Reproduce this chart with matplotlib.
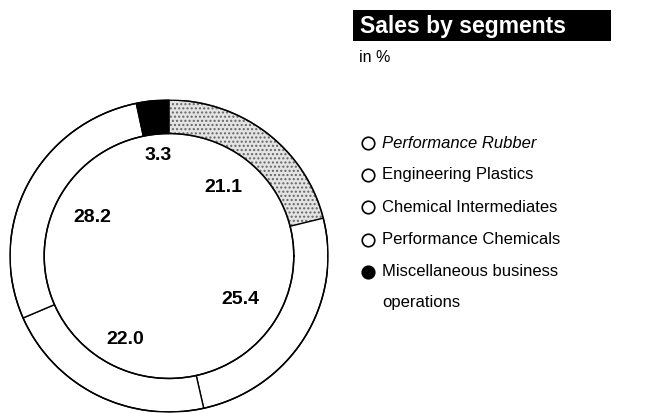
import matplotlib
matplotlib.use("Agg")
import matplotlib.pyplot as plt
import numpy as np

plt.rcParams['font.family'] = ['Liberation Sans', 'DejaVu Sans']

segments = ["Performance Rubber", "Engineering Plastics", "Chemical Intermediates",
            "Performance Chemicals", "Miscellaneous business\noperations"]
values = [21.1, 25.4, 22.0, 28.2, 3.3]
value_labels = ["21.1", "25.4", "22.0", "28.2", "3.3"]
colors = ["#e4e4e4", "white", "white", "white", "black"]
label_r = [0.56, 0.53, 0.60, 0.54, 0.65]

W, H = 648, 413
fig = plt.figure(figsize=(W / 100, H / 100), dpi=100)

# donut axes (pixel placement)
cx, cy, rx, ry = 169, 256, 159, 156
ax = fig.add_axes([(cx - rx) / W, (H - cy - ry) / H, 2 * rx / W, 2 * ry / H])
wedges, _ = ax.pie(values, colors=colors, startangle=90, counterclock=False,
                   radius=1.0, wedgeprops=dict(width=0.215, edgecolor='black', linewidth=1.0))
wedges[0].set_hatch('....')
wedges[0].set_edgecolor('#666666')
# clean outline circles
th = np.linspace(0, 2 * np.pi, 400)
ax.plot(np.cos(th), np.sin(th), color='black', lw=1.1)
ax.plot(0.785 * np.cos(th), 0.785 * np.sin(th), color='black', lw=1.1)
for w, lab, r in zip(wedges, value_labels, label_r):
    ang = np.deg2rad((w.theta1 + w.theta2) / 2)
    ax.text(r * np.cos(ang), r * np.sin(ang), lab, ha='center', va='center',
            fontsize=14, fontweight='bold')
ax.set_xlim(-1, 1)
ax.set_ylim(-1, 1)
ax.set_aspect('auto')
ax.axis('off')

# title box
fig.patches.append(plt.Rectangle((353 / W, 1 - 41 / H), (611 - 353) / W, 31 / H,
                                 transform=fig.transFigure, facecolor='black', edgecolor='none'))
fig.text(360 / W, 1 - 26 / H, "Sales by segments", color='white', fontsize=16.5,
         fontweight='bold', va='center', ha='left')
fig.text(359 / W, 1 - 57 / H, "in %", fontsize=11.5, va='center', ha='left')

# legend
ys = [143, 175, 207, 240, 272]
for i, (name, y) in enumerate(zip(segments, ys)):
    filled = i == 4
    fig.lines.append(plt.Line2D([368 / W], [1 - y / H], transform=fig.transFigure,
                                marker='o', markersize=9,
                                markerfacecolor='black' if filled else 'white',
                                markeredgecolor='black', markeredgewidth=1.2, linestyle='none'))
    if filled:
        fig.text(382 / W, 1 - y / H, "Miscellaneous business", fontsize=12, va='center', ha='left')
        fig.text(382 / W, 1 - 303 / H, "operations", fontsize=12, va='center', ha='left')
    else:
        fig.text(382 / W, 1 - y / H, name, fontsize=12, va='center', ha='left',
                 style='italic' if i == 0 else 'normal')

fig.savefig("out.png", dpi=100, facecolor='white')
